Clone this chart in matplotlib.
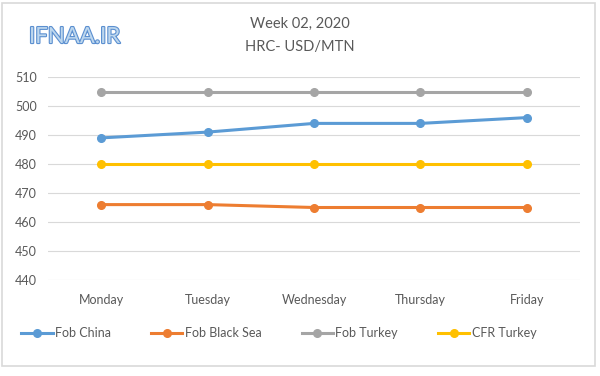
import matplotlib.pyplot as plt
import matplotlib.patheffects as pe
from matplotlib.patches import Rectangle

days = ["Monday", "Tuesday", "Wednesday", "Thursday", "Friday"]
fob_china = [489, 491, 494, 494, 496]
fob_black_sea = [466, 466, 465, 465, 465]
fob_turkey = [505, 505, 505, 505, 505]
cfr_turkey = [480, 480, 480, 480, 480]
y_ticks = [440, 450, 460, 470, 480, 490, 500, 510]

plt.rcParams['font.family'] = ['Lato', 'DejaVu Sans']
txt = '#595959'

fig = plt.figure(figsize=(6, 3.76), dpi=100)
ax = fig.add_axes([48/600, 1-280/376, 532/600, 203/376])

# outer frame
fig.patches.append(Rectangle((2/600, 1-366/376), 593/600, 363/376,
                             transform=fig.transFigure, fill=False,
                             edgecolor='#d9d9d9', linewidth=1.2))

series = [
    ("Fob China", fob_china, '#5B9BD5'),
    ("Fob Black Sea", fob_black_sea, '#ED7D31'),
    ("Fob Turkey", fob_turkey, '#A5A5A5'),
    ("CFR Turkey", cfr_turkey, '#FFC000'),
]
x = list(range(len(days)))
for name, vals, col in series:
    ax.plot(x, vals, color=col, lw=2.2, marker='o', ms=5.5, label=name)

ax.set_xlim(-0.5, 4.5)
ax.set_ylim(440, 510)
ax.set_yticks(y_ticks)
ax.set_xticks(x)
ax.set_xticklabels(days)
ax.grid(axis='y', color='#d9d9d9', lw=0.8)
ax.set_axisbelow(True)
for s in ax.spines.values():
    s.set_visible(False)
ax.tick_params(length=0, labelsize=9, labelcolor=txt)
ax.tick_params(axis='x', pad=10)
ax.tick_params(axis='y', pad=8)

fig.text(0.5, 1-24/376, "Week 02, 2020", ha='center', va='center', fontsize=10.5, color=txt)
fig.text(0.5, 1-47/376, "HRC- USD/MTN", ha='center', va='center', fontsize=10.5, color=txt)
fig.text(29/600, 1-37/376, "IFNAA.IR", ha='left', va='center', fontsize=16,
         color='#bdd7ee',
         path_effects=[pe.withStroke(linewidth=1.6, foreground='#5b8fd0')])

fig.legend(loc='center', bbox_to_anchor=(0.465, 1-333/376), ncol=4, frameon=False,
           fontsize=9, labelcolor=txt, handlelength=2.5, handletextpad=0.2,
           columnspacing=3.2)

fig.savefig("out.png", dpi=100)
